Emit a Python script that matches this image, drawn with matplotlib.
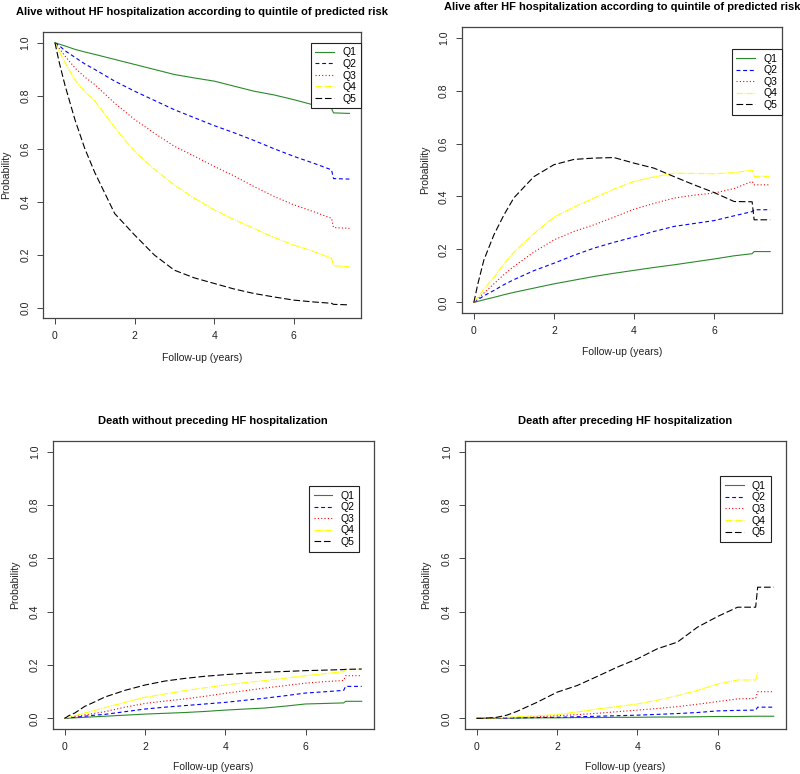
import numpy as np
import matplotlib.pyplot as plt

plt.rcParams['font.family'] = ['Liberation Sans', 'DejaVu Sans']

# follow-up time grid (years)
t = [0, 0.1, 0.25, 0.5, 0.75, 1, 1.5, 2, 2.5, 3, 3.5, 4, 4.5, 5, 5.5, 6, 6.5, 6.95, 7.0, 7.4]
groups = ['Q1', 'Q2', 'Q3', 'Q4', 'Q5']

# alive without HF hospitalization
a_q1 = [1.0, 0.995, 0.988, 0.975, 0.965, 0.956, 0.937, 0.918, 0.899, 0.880, 0.867, 0.855, 0.836, 0.817, 0.803, 0.785, 0.765, 0.752, 0.735, 0.733]
a_q2 = [1.0, 0.99, 0.97, 0.945, 0.92, 0.899, 0.855, 0.817, 0.782, 0.747, 0.717, 0.687, 0.660, 0.631, 0.600, 0.571, 0.545, 0.520, 0.487, 0.485]
a_q3 = [1.0, 0.98, 0.95, 0.905, 0.87, 0.842, 0.772, 0.710, 0.658, 0.609, 0.572, 0.533, 0.497, 0.457, 0.420, 0.388, 0.362, 0.337, 0.302, 0.299]
a_q4 = [1.0, 0.97, 0.925, 0.86, 0.815, 0.78, 0.68, 0.590, 0.522, 0.463, 0.413, 0.369, 0.332, 0.299, 0.265, 0.236, 0.212, 0.186, 0.158, 0.154]
a_q5 = [1.0, 0.93, 0.84, 0.71, 0.60, 0.51, 0.355, 0.274, 0.198, 0.141, 0.112, 0.091, 0.07, 0.053, 0.040, 0.028, 0.021, 0.016, 0.012, 0.01]

# alive after HF hospitalization
b_q1 = [0, 0.004, 0.01, 0.019, 0.029, 0.038, 0.054, 0.07, 0.084, 0.098, 0.11, 0.121, 0.132, 0.142, 0.153, 0.164, 0.176, 0.184, 0.192, 0.192]
b_q2 = [0, 0.01, 0.025, 0.045, 0.067, 0.086, 0.12, 0.148, 0.178, 0.205, 0.227, 0.247, 0.268, 0.287, 0.298, 0.309, 0.327, 0.343, 0.35, 0.35]
b_q3 = [0, 0.015, 0.035, 0.07, 0.105, 0.136, 0.19, 0.236, 0.268, 0.293, 0.322, 0.352, 0.374, 0.394, 0.405, 0.413, 0.43, 0.457, 0.444, 0.444]
b_q4 = [0, 0.02, 0.05, 0.095, 0.145, 0.19, 0.26, 0.322, 0.36, 0.394, 0.428, 0.457, 0.474, 0.488, 0.487, 0.486, 0.49, 0.50, 0.476, 0.476]
b_q5 = [0, 0.07, 0.16, 0.255, 0.33, 0.395, 0.475, 0.52, 0.54, 0.545, 0.547, 0.526, 0.507, 0.475, 0.444, 0.415, 0.381, 0.38, 0.312, 0.312]

# death without preceding HF hospitalization
c_q1 = [0, 0.001, 0.002, 0.004, 0.006, 0.008, 0.012, 0.016, 0.019, 0.022, 0.026, 0.031, 0.035, 0.039, 0.046, 0.054, 0.056, 0.058, 0.064, 0.064]
c_q2 = [0, 0.002, 0.004, 0.008, 0.012, 0.015, 0.025, 0.035, 0.042, 0.048, 0.054, 0.06, 0.068, 0.076, 0.085, 0.095, 0.100, 0.105, 0.12, 0.12]
c_q3 = [0, 0.003, 0.007, 0.013, 0.019, 0.025, 0.042, 0.056, 0.065, 0.073, 0.083, 0.094, 0.104, 0.114, 0.123, 0.132, 0.138, 0.142, 0.16, 0.16]
c_q4 = [0, 0.004, 0.01, 0.02, 0.03, 0.04, 0.06, 0.079, 0.092, 0.104, 0.115, 0.125, 0.134, 0.142, 0.151, 0.16, 0.168, 0.175, 0.182, 0.185]
c_q5 = [0, 0.01, 0.02, 0.045, 0.062, 0.08, 0.105, 0.125, 0.14, 0.15, 0.158, 0.164, 0.169, 0.173, 0.176, 0.179, 0.181, 0.183, 0.184, 0.185]

# death after preceding HF hospitalization
d_q1 = [0, 0, 0, 0.0005, 0.001, 0.001, 0.002, 0.002, 0.003, 0.003, 0.004, 0.004, 0.005, 0.005, 0.006, 0.007, 0.007, 0.008, 0.008, 0.008]
d_q2 = [0, 0, 0.0005, 0.001, 0.001, 0.002, 0.003, 0.004, 0.006, 0.008, 0.01, 0.012, 0.015, 0.018, 0.022, 0.028, 0.03, 0.031, 0.042, 0.042]
d_q3 = [0, 0, 0.0005, 0.001, 0.002, 0.003, 0.006, 0.01, 0.014, 0.019, 0.025, 0.031, 0.037, 0.044, 0.053, 0.063, 0.073, 0.075, 0.1, 0.1]
d_q4 = [0, 0, 0.001, 0.002, 0.004, 0.006, 0.01, 0.014, 0.024, 0.035, 0.044, 0.054, 0.068, 0.085, 0.105, 0.129, 0.144, 0.144, 0.173, np.nan]
d_q5 = [0, 0, 0.001, 0.004, 0.012, 0.026, 0.06, 0.098, 0.123, 0.157, 0.192, 0.223, 0.261, 0.286, 0.342, 0.382, 0.417, 0.417, 0.492, 0.492]

titles = ['Alive without HF hospitalization according to quintile of predicted risk',
          'Alive after HF hospitalization according to quintile of predicted risk',
          'Death without preceding HF hospitalization',
          'Death after preceding HF hospitalization']

colors = ['#2a8a2a', '#0000FF', '#FF0000', '#FFFF00', '#000000']
dashes = ['-', (0, (3.5, 2.5)), (0, (1, 2)), (0, (6, 1, 1, 1)), (0, (6, 2.5))]

fig = plt.figure(figsize=(8, 7.74), dpi=100)

# axes boxes [left, bottom, width, height], legend anchors, label positions
boxes = [[0.054, 0.589, 0.3975, 0.3695],
         [0.5775, 0.5956, 0.400, 0.3695],
         [0.066, 0.0581, 0.401, 0.372],
         [0.581, 0.0581, 0.401, 0.372]]
anchors = [(1.0, 0.963), (1.0, 0.923), (0.956, 0.844), (0.953, 0.878)]
xlab_y = [-0.14, -0.136, -0.132, -0.132]
ylab_x = [-0.117, -0.116, -0.118, -0.121]

data = [[a_q1, a_q2, a_q3, a_q4, a_q5],
        [b_q1, b_q2, b_q3, b_q4, b_q5],
        [c_q1, c_q2, c_q3, c_q4, c_q5],
        [d_q1, d_q2, d_q3, d_q4, d_q5]]

for i in range(4):
    ax = fig.add_axes(boxes[i])
    for y, col, ls, lab in zip(data[i], colors, dashes, groups):
        ax.plot(t, y, color=col, linestyle=ls, linewidth=0.8, label=lab)
    ax.set_xlim(-0.296, 7.696)
    ax.set_ylim(-0.04, 1.04)
    ax.set_xticks([0, 2, 4, 6])
    ax.set_yticks([0.0, 0.2, 0.4, 0.6, 0.8, 1.0])
    ax.set_yticklabels(['0.0', '0.2', '0.4', '0.6', '0.8', '1.0'], rotation=90, va='center')
    ax.tick_params(direction='out', length=4.3, width=0.7, color='#444444',
                   labelsize=7.5, pad=5, labelcolor='#222222')
    for s in ax.spines.values():
        s.set_color('#444444')
        s.set_linewidth(0.9)
    ax.set_title(titles[i], fontsize=8, fontweight='bold', pad=12)
    ax.set_xlabel('Follow-up (years)', fontsize=7.5, color='#222222', va='center')
    ax.set_ylabel('Probability', fontsize=7.5, color='#222222', va='center')
    ax.xaxis.set_label_coords(0.5, xlab_y[i])
    ax.yaxis.set_label_coords(ylab_x[i], 0.5)
    leg = ax.legend(loc='upper right', bbox_to_anchor=anchors[i], borderaxespad=0,
                    fontsize=7.5, handlelength=1.8, handletextpad=0.8,
                    labelspacing=0.15, borderpad=0.45, fancybox=False,
                    framealpha=1, edgecolor='#222222')
    leg.get_frame().set_linewidth(0.8)

fig.savefig('out.png', dpi=100)
